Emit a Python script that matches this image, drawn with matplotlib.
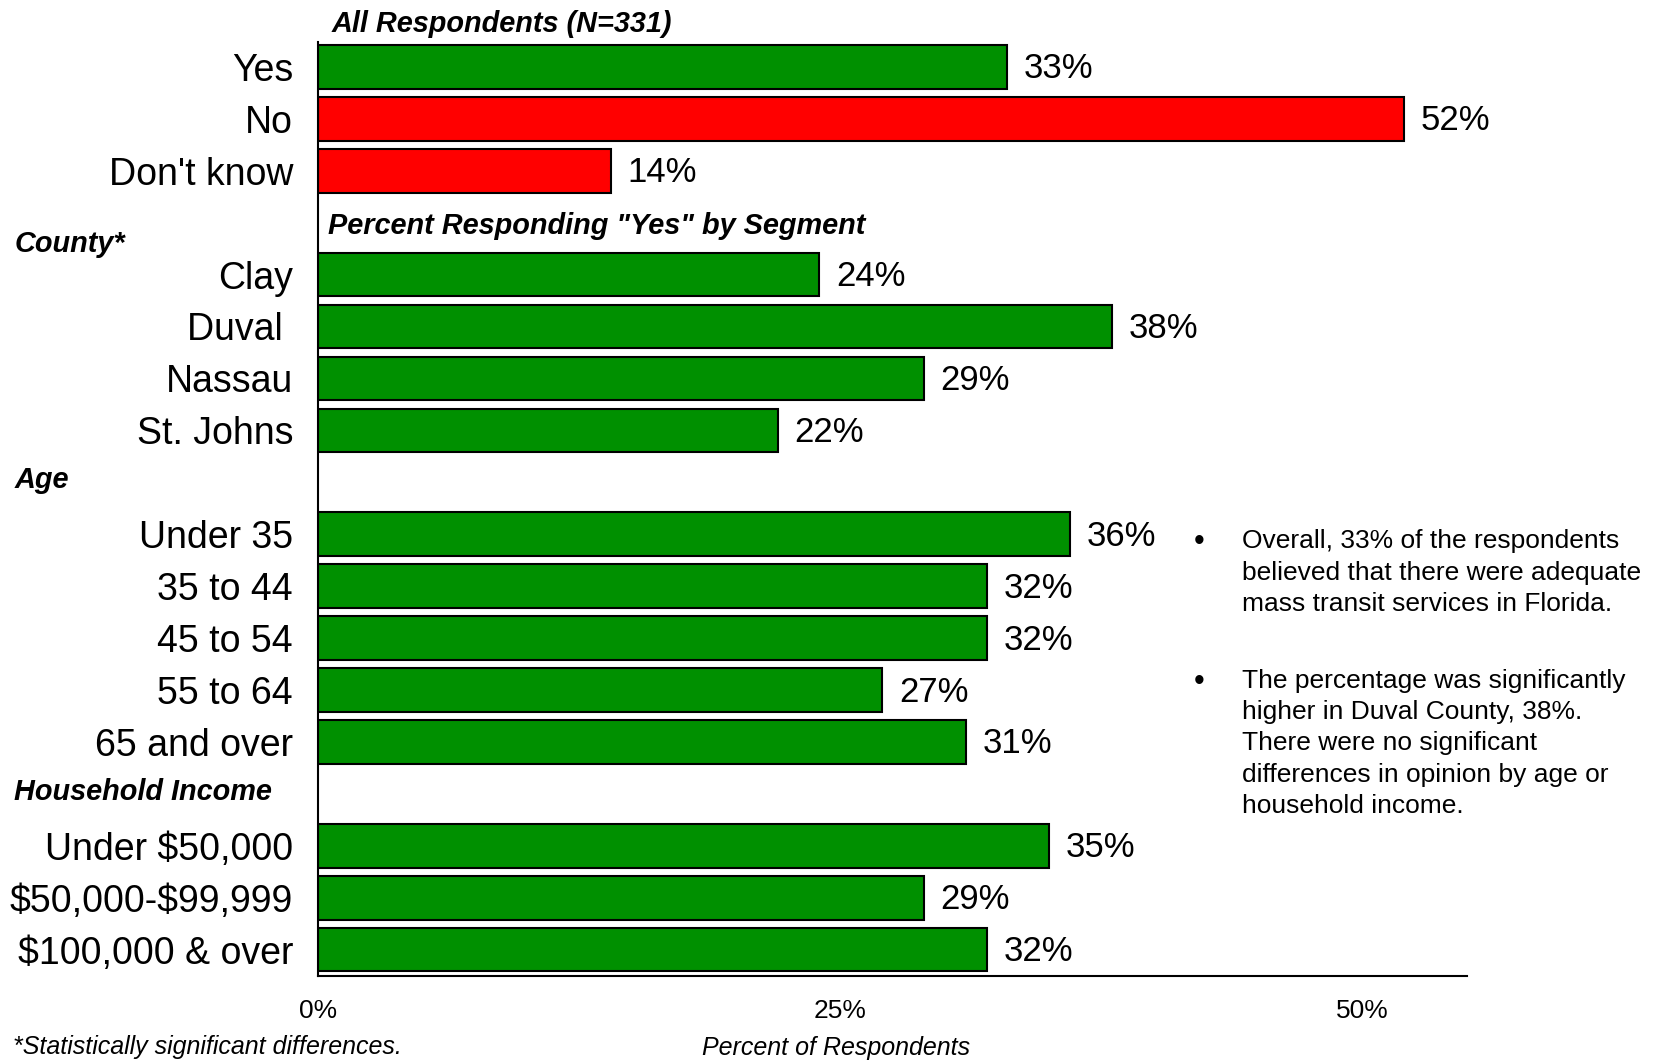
import matplotlib
matplotlib.use("Agg")
import matplotlib.pyplot as plt
import matplotlib.transforms as mtransforms

# survey results, percent answering "yes" (overall block also has no / don't know)
overall_labels = ["Yes", "No", "Don't know"]
overall_values = [33, 52, 14]
county_labels = ["Clay", "Duval ", "Nassau", "St. Johns"]
county_values = [24, 38, 29, 22]
age_labels = ["Under 35", "35 to 44", "45 to 54", "55 to 64", "65 and over"]
age_values = [36, 32, 32, 27, 31]
income_labels = ["Under $50,000", "$50,000-$99,999", "$100,000 & over"]
income_values = [35, 29, 32]

group_titles = ["County*", "Age", "Household Income"]
bullets = [
    "Overall, 33% of the respondents\nbelieved that there were adequate\nmass transit services in Florida.",
    "The percentage was significantly\nhigher in Duval County, 38%.\nThere were no significant\ndifferences in opinion by age or\nhousehold income.",
]

GREEN = "#009000"
RED = "#ff0000"
plt.rcParams["font.family"] = ["Liberation Sans", "DejaVu Sans"]
plt.rcParams["text.parse_math"] = False

# lay the rows out top to bottom, leaving an empty row between blocks
labels, values, colors, rows = [], [], [], []
group_rows = []
row = 0
for i, (labs, vals) in enumerate([(overall_labels, overall_values),
                                   (county_labels, county_values),
                                   (age_labels, age_values),
                                   (income_labels, income_values)]):
    if i > 0:
        group_rows.append(row)
        row += 1
    for lab, val in zip(labs, vals):
        labels.append(lab)
        values.append(val)
        colors.append(RED if (i == 0 and lab != "Yes") else GREEN)
        rows.append(row)
        row += 1

fig = plt.figure(figsize=(16.61, 10.61), dpi=100)
ax = fig.add_axes([0.1915, 0.0805, 0.6917, 0.8795])

ax.barh(rows, values, height=0.84, color=colors, edgecolor="black", linewidth=1.5)
for r, v in zip(rows, values):
    ax.annotate(f"{v}%", (v, r), xytext=(12, -1.5), textcoords="offset points",
                va="center", ha="left", fontsize=25)

ax.set_xlim(0, 55)
ax.set_ylim(17.5, -0.47)
ax.set_yticks(rows)
ax.set_yticklabels(labels, fontsize=27)
ax.set_xticks([0, 25, 50])
ax.set_xticklabels(["0%", "25%", "50%"], fontsize=19)
ax.tick_params(axis="y", length=0, pad=18)
ax.tick_params(axis="x", length=0, pad=17)

for side in ["top", "right"]:
    ax.spines[side].set_visible(False)
for side in ["left", "bottom"]:
    ax.spines[side].set_linewidth(1.5)

# block headings
ax.text(0.65, -0.82, "All Respondents (N=331)", fontsize=20.8, weight="bold",
        style="italic", va="center", ha="left", clip_on=False)
ax.text(0.48, group_rows[0] + 0.06, 'Percent Responding "Yes" by Segment', fontsize=20.8,
        weight="bold", style="italic", va="center", ha="left")
trans = mtransforms.blended_transform_factory(fig.transFigure, ax.transData)
for title, r, dy in zip(group_titles, group_rows, [0.42, -0.04, -0.03]):
    fig.text(0.0085, r + dy, title, transform=trans, fontsize=20.8, weight="bold",
             style="italic", va="center", ha="left")

# notes on the right
for y, txt in zip([0.501, 0.3695], bullets):
    fig.text(0.7219, y + 0.002, "\u2022", fontsize=22, va="top", ha="center")
    fig.text(0.748, y, txt, fontsize=19, va="top", ha="left", linespacing=1.38)

fig.text(0.5033, 0.0126, "Percent of Respondents", fontsize=18, style="italic",
         ha="center", va="center")
fig.text(0.0076, 0.0136, "*Statistically significant differences.", fontsize=18,
         style="italic", ha="left", va="center")

fig.savefig("out.png", dpi=100)
